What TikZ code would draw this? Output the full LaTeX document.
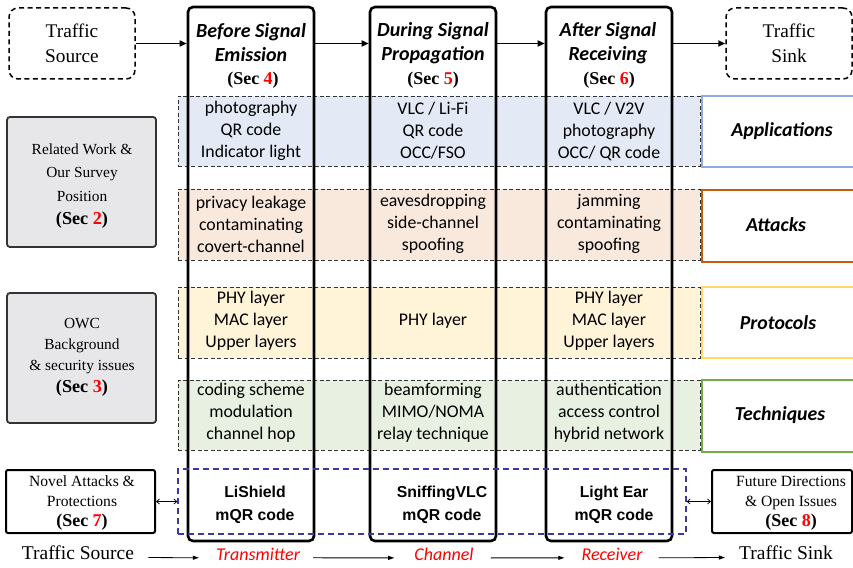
\documentclass[tikz,border=0pt]{standalone}
\usepackage{fontspec}
\setmainfont{Liberation Serif}
\newfontfamily\cali{Carlito}
\newfontfamily\ari{Liberation Sans}
\usetikzlibrary{arrows.meta}
\definecolor{bandblue}{HTML}{E4EAF5}
\definecolor{bandorange}{HTML}{F9E9DD}
\definecolor{bandyellow}{HTML}{FFF3D8}
\definecolor{bandgreen}{HTML}{E7F0E1}
\definecolor{edgeblue}{HTML}{8FAADC}
\definecolor{edgeorange}{HTML}{C55A11}
\definecolor{edgeyellow}{HTML}{FFD966}
\definecolor{edgegreen}{HTML}{70AD47}
\definecolor{greyfill}{HTML}{E7E7E9}
\definecolor{navyline}{HTML}{3A3A9E}
\newcommand{\secref}[1]{\textbf{(Sec \textcolor{red}{#1})}}
\begin{document}
\begin{tikzpicture}[x=1pt,y=-1pt,
 band/.style={draw=black!80, dash pattern=on 4pt off 2.5pt, line width=0.9pt, minimum width=522pt, inner sep=0pt},
 catbox/.style={draw, line width=2pt, fill=white, minimum width=153pt, inner sep=0pt},
 catlabel/.style={inner sep=0pt, font=\cali\bfseries\itshape\fontsize{19.8}{22}\selectfont},
 greybox/.style={draw=black!80, fill=greyfill, line width=1.8pt, rounded corners=3pt, minimum width=149pt, minimum height=130pt, inner sep=0pt, align=center},
 whitebox/.style={draw=black, line width=2pt, rounded corners=2pt, minimum width=149pt, minimum height=63pt, inner sep=0pt},
 boxtext/.style={align=center, inner sep=0pt, font=\fontsize{15.6}{20}\selectfont},
 endbox/.style={draw, dash pattern=on 5pt off 3.5pt, line width=1.5pt, rounded corners=9pt, minimum width=126pt, minimum height=71pt, align=center, inner sep=0pt, font=\fontsize{19.3}{25}\selectfont},
 colbox/.style={draw, line width=2.6pt, rounded corners=5pt, minimum width=126pt, minimum height=534pt, inner sep=0pt},
 cell/.style={align=center, inner sep=0pt, font=\cali\fontsize{17.8}{22}\selectfont},
 coltitle/.style={align=center, inner sep=0pt, font=\cali\bfseries\itshape\fontsize{20}{24}\selectfont},
 sec/.style={inner sep=0pt, font=\fontsize{18}{20}\selectfont},
 tool/.style={align=center, inner sep=0pt, font=\ari\bfseries\fontsize{15.8}{23}\selectfont},
 flow/.style={inner sep=0pt, font=\fontsize{19.5}{22}\selectfont},
 stage/.style={inner sep=0pt, text=red, font=\cali\itshape\fontsize{18}{20}\selectfont},
 bigarrow/.style={-{Triangle[length=7pt,width=6pt]}, line width=1.6pt},
 smallarrow/.style={-{Triangle[length=6pt,width=4pt]}, line width=0.8pt},
 duo/.style={{Straight Barb[length=3pt,width=5pt]}-{Straight Barb[length=3pt,width=5pt]}, line width=0.7pt}
]
\useasboundingbox (0,0) rectangle (853,567);
% bands
\node[band, fill=bandblue, minimum height=70pt] (bapp) at (439,131) {};
\node[band, fill=bandorange, minimum height=71pt] (batt) at (439,224.5) {};
\node[band, fill=bandyellow, minimum height=71pt] (bpro) at (439,322.5) {};
\node[band, fill=bandgreen, minimum height=70pt] (btec) at (439,415) {};
% category boxes
\node[catbox, draw=edgeblue, minimum height=71pt] (kapp) at (778.5,131.5) {};
\node[catbox, draw=edgeorange, minimum height=72pt] (katt) at (778.5,226) {};
\node[catbox, draw=edgeyellow, minimum height=71pt] (kpro) at (778.5,322.5) {};
\node[catbox, draw=edgegreen, minimum height=72pt] (ktec) at (778.5,416) {};
\node[catlabel] (lapp) at (782,131) {Applications};
\node[catlabel] (latt) at (776,225) {Attacks};
\node[catlabel] (lpro) at (778,323) {Protocols};
\node[catlabel] (ltec) at (780,415) {Techniques};
% left boxes
\node[greybox] (rel) at (81.5,182) {};
\node[align=center, inner sep=0pt, font=\fontsize{15.4}{23.5}\selectfont] (relt) at (82,186) {Related Work \&\\Our Survey\\Position\\{\fontsize{18.2}{23.5}\selectfont\secref{2}}};
\node[greybox] (owc) at (81.5,358) {};
\node[align=center, inner sep=0pt, font=\fontsize{15.4}{21.3}\selectfont] (owct) at (82,357) {OWC\\Background\\\& security issues\\{\fontsize{18.2}{21.3}\selectfont\secref{3}}};
\node[whitebox] (nov) at (80.5,501.5) {};
\node[boxtext] (novt) at (82,503) {Novel Attacks \&\\Protections\\{\fontsize{18}{20}\selectfont\secref{7}}};
\node[whitebox, minimum width=140pt] (fut) at (782,501.5) {};
\node[boxtext] (futt) at (791,503) {Future Directions\\\& Open Issues\\{\fontsize{18}{20}\selectfont\secref{8}}};
% end boxes
\node[endbox] (src) at (72,43.5) {Traffic\\Source};
\node[endbox] (snk) at (789,43.5) {Traffic\\Sink};
% columns
\node[colbox] (c1) at (251,274) {};
\node[colbox] (c2) at (433,274) {};
\node[colbox] (c3) at (609,274) {};
% blue dashed group
\node[draw=navyline, dash pattern=on 6pt off 4pt, line width=1.2pt, minimum width=508pt, minimum height=65pt, inner sep=0pt] (grp) at (432,501.5) {};
% column titles
\node[coltitle] (t1) at (251,43) {Before Signal\\Emission};
\node[coltitle] (t2) at (433,43) {During Signal\\Propagation};
\node[coltitle] (t3) at (608,43) {After Signal\\Receiving};
\node[sec] (s1) at (253,80) {\secref{4}};
\node[sec] (s2) at (433,80) {\secref{5}};
\node[sec] (s3) at (609,80) {\secref{6}};
% cells
\node[cell] (a1) at (251,131) {photography\\QR code\\Indicator light};
\node[cell] (a2) at (433,131) {VLC / Li-Fi\\QR code\\OCC/FSO};
\node[cell] (a3) at (609,131) {VLC / V2V\\photography\\OCC/ QR code};
\node[cell] (x1) at (251,224) {privacy leakage\\contaminating\\covert-channel};
\node[cell] (x2) at (433,224) {eavesdropping\\side-channel\\spoofing};
\node[cell] (x3) at (609,224) {jamming\\contaminating\\spoofing};
\node[cell] (p1) at (251,321) {PHY layer\\MAC layer\\Upper layers};
\node[cell] (p2) at (433,321) {PHY layer};
\node[cell] (p3) at (609,321) {PHY layer\\MAC layer\\Upper layers};
\node[cell] (q1) at (251,413) {coding scheme\\modulation\\channel hop};
\node[cell] (q2) at (433,413) {beamforming\\MIMO/NOMA\\relay technique};
\node[cell] (q3) at (609,413) {authentication\\access control\\hybrid network};
% tools
\node[tool] (w1) at (255,505) {LiShield\\mQR code};
\node[tool] (w2) at (442,505) {SniffingVLC\\mQR code};
\node[tool] (w3) at (614,505) {Light Ear\\mQR code};
% bottom flow
\node[flow] (f1) at (78,553) {Traffic Source};
\node[stage] (f2) at (258,554) {Transmitter};
\node[stage] (f3) at (444,554) {Channel};
\node[stage] (f4) at (612,554) {Receiver};
\node[flow] (f5) at (786,553) {Traffic Sink};
% arrows
\draw[bigarrow] (src.east) -- (src.east -| c1.west);
\draw[bigarrow] (c1.east |- src.east) -- (c2.west |- src.east);
\draw[bigarrow] (c2.east |- src.east) -- (c3.west |- src.east);
\draw[bigarrow] (c3.east |- snk.west) -- (snk.west);
\draw[duo] (nov.east) -- (nov.east -| grp.west);
\draw[duo] (grp.east |- fut.west) -- (fut.west);
\draw[smallarrow, shorten <=14pt, shorten >=17pt] (f1.mid east) -- (f2.mid west);
\draw[smallarrow, shorten <=13pt, shorten >=20pt] (f2.mid east) -- (f3.mid west);
\draw[smallarrow, shorten <=17pt, shorten >=17pt] (f3.mid east) -- (f4.mid west);
\draw[smallarrow, shorten <=16pt, shorten >=14pt] (f4.mid east) -- (f5.mid west);
\end{tikzpicture}
\end{document}
